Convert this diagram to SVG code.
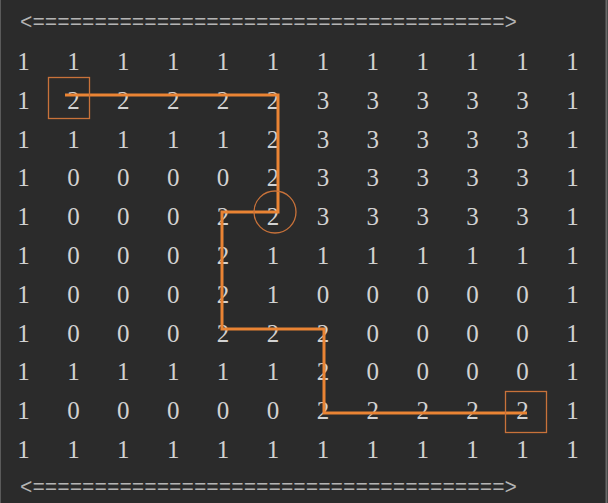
<svg xmlns="http://www.w3.org/2000/svg" width="608" height="503" viewBox="0 0 608 503">
<style>
.bg{fill:#2b2b2b}
.d{font-family:"Liberation Serif",serif;font-size:25px;fill:#d2d2d2;text-anchor:middle}
.ban{font-family:"Liberation Mono",monospace;font-size:22px;fill:#b4b4b4}
.path{fill:none;stroke:#ea8434;stroke-width:3;stroke-linejoin:miter}
.mark{fill:none;stroke:#c8723a;stroke-width:1.3}
</style>
<rect class="bg" x="0" y="0" width="608" height="503"/>
<line x1="0.5" y1="0" x2="0.5" y2="503" stroke="#5a5a5a" stroke-width="1"/>
<line x1="606.5" y1="0" x2="606.5" y2="503" stroke="#6a6a6a" stroke-width="2"/>
<text id="banner-top" class="ban" x="20" y="29" textLength="497" lengthAdjust="spacingAndGlyphs">&lt;======================================&gt;</text>
<text id="banner-bottom" class="ban" x="20" y="494" textLength="497" lengthAdjust="spacingAndGlyphs">&lt;======================================&gt;</text>
<g id="grid" class="d">
<text y="70"><tspan x="23.5">1</tspan><tspan x="73.4">1</tspan><tspan x="123.3">1</tspan><tspan x="173.2">1</tspan><tspan x="223.1">1</tspan><tspan x="273">1</tspan><tspan x="322.9">1</tspan><tspan x="372.8">1</tspan><tspan x="422.7">1</tspan><tspan x="472.6">1</tspan><tspan x="522.5">1</tspan><tspan x="572.4">1</tspan></text>
<text y="108.8"><tspan x="23.5">1</tspan><tspan x="73.4">2</tspan><tspan x="123.3">2</tspan><tspan x="173.2">2</tspan><tspan x="223.1">2</tspan><tspan x="273">2</tspan><tspan x="322.9">3</tspan><tspan x="372.8">3</tspan><tspan x="422.7">3</tspan><tspan x="472.6">3</tspan><tspan x="522.5">3</tspan><tspan x="572.4">1</tspan></text>
<text y="147.6"><tspan x="23.5">1</tspan><tspan x="73.4">1</tspan><tspan x="123.3">1</tspan><tspan x="173.2">1</tspan><tspan x="223.1">1</tspan><tspan x="273">2</tspan><tspan x="322.9">3</tspan><tspan x="372.8">3</tspan><tspan x="422.7">3</tspan><tspan x="472.6">3</tspan><tspan x="522.5">3</tspan><tspan x="572.4">1</tspan></text>
<text y="186.4"><tspan x="23.5">1</tspan><tspan x="73.4">0</tspan><tspan x="123.3">0</tspan><tspan x="173.2">0</tspan><tspan x="223.1">0</tspan><tspan x="273">2</tspan><tspan x="322.9">3</tspan><tspan x="372.8">3</tspan><tspan x="422.7">3</tspan><tspan x="472.6">3</tspan><tspan x="522.5">3</tspan><tspan x="572.4">1</tspan></text>
<text y="225.2"><tspan x="23.5">1</tspan><tspan x="73.4">0</tspan><tspan x="123.3">0</tspan><tspan x="173.2">0</tspan><tspan x="223.1">2</tspan><tspan x="273">2</tspan><tspan x="322.9">3</tspan><tspan x="372.8">3</tspan><tspan x="422.7">3</tspan><tspan x="472.6">3</tspan><tspan x="522.5">3</tspan><tspan x="572.4">1</tspan></text>
<text y="264"><tspan x="23.5">1</tspan><tspan x="73.4">0</tspan><tspan x="123.3">0</tspan><tspan x="173.2">0</tspan><tspan x="223.1">2</tspan><tspan x="273">1</tspan><tspan x="322.9">1</tspan><tspan x="372.8">1</tspan><tspan x="422.7">1</tspan><tspan x="472.6">1</tspan><tspan x="522.5">1</tspan><tspan x="572.4">1</tspan></text>
<text y="302.8"><tspan x="23.5">1</tspan><tspan x="73.4">0</tspan><tspan x="123.3">0</tspan><tspan x="173.2">0</tspan><tspan x="223.1">2</tspan><tspan x="273">1</tspan><tspan x="322.9">0</tspan><tspan x="372.8">0</tspan><tspan x="422.7">0</tspan><tspan x="472.6">0</tspan><tspan x="522.5">0</tspan><tspan x="572.4">1</tspan></text>
<text y="341.6"><tspan x="23.5">1</tspan><tspan x="73.4">0</tspan><tspan x="123.3">0</tspan><tspan x="173.2">0</tspan><tspan x="223.1">2</tspan><tspan x="273">2</tspan><tspan x="322.9">2</tspan><tspan x="372.8">0</tspan><tspan x="422.7">0</tspan><tspan x="472.6">0</tspan><tspan x="522.5">0</tspan><tspan x="572.4">1</tspan></text>
<text y="380.4"><tspan x="23.5">1</tspan><tspan x="73.4">1</tspan><tspan x="123.3">1</tspan><tspan x="173.2">1</tspan><tspan x="223.1">1</tspan><tspan x="273">1</tspan><tspan x="322.9">2</tspan><tspan x="372.8">0</tspan><tspan x="422.7">0</tspan><tspan x="472.6">0</tspan><tspan x="522.5">0</tspan><tspan x="572.4">1</tspan></text>
<text y="419.2"><tspan x="23.5">1</tspan><tspan x="73.4">0</tspan><tspan x="123.3">0</tspan><tspan x="173.2">0</tspan><tspan x="223.1">0</tspan><tspan x="273">0</tspan><tspan x="322.9">2</tspan><tspan x="372.8">2</tspan><tspan x="422.7">2</tspan><tspan x="472.6">2</tspan><tspan x="522.5">2</tspan><tspan x="572.4">1</tspan></text>
<text y="458"><tspan x="23.5">1</tspan><tspan x="73.4">1</tspan><tspan x="123.3">1</tspan><tspan x="173.2">1</tspan><tspan x="223.1">1</tspan><tspan x="273">1</tspan><tspan x="322.9">1</tspan><tspan x="372.8">1</tspan><tspan x="422.7">1</tspan><tspan x="472.6">1</tspan><tspan x="522.5">1</tspan><tspan x="572.4">1</tspan></text>
</g>
<g id="connectors">
<polyline class="path" points="65,95 278,95 278,212 222,212 222,329 324,329 324,413 527,413"/>
</g>
<g id="start-box"><rect class="mark" x="48.5" y="77.5" width="41" height="41"/></g>
<g id="turn-circle"><circle class="mark" cx="275" cy="212" r="21"/></g>
<g id="end-box"><rect class="mark" x="505.5" y="391.5" width="41" height="41"/></g>
</svg>
